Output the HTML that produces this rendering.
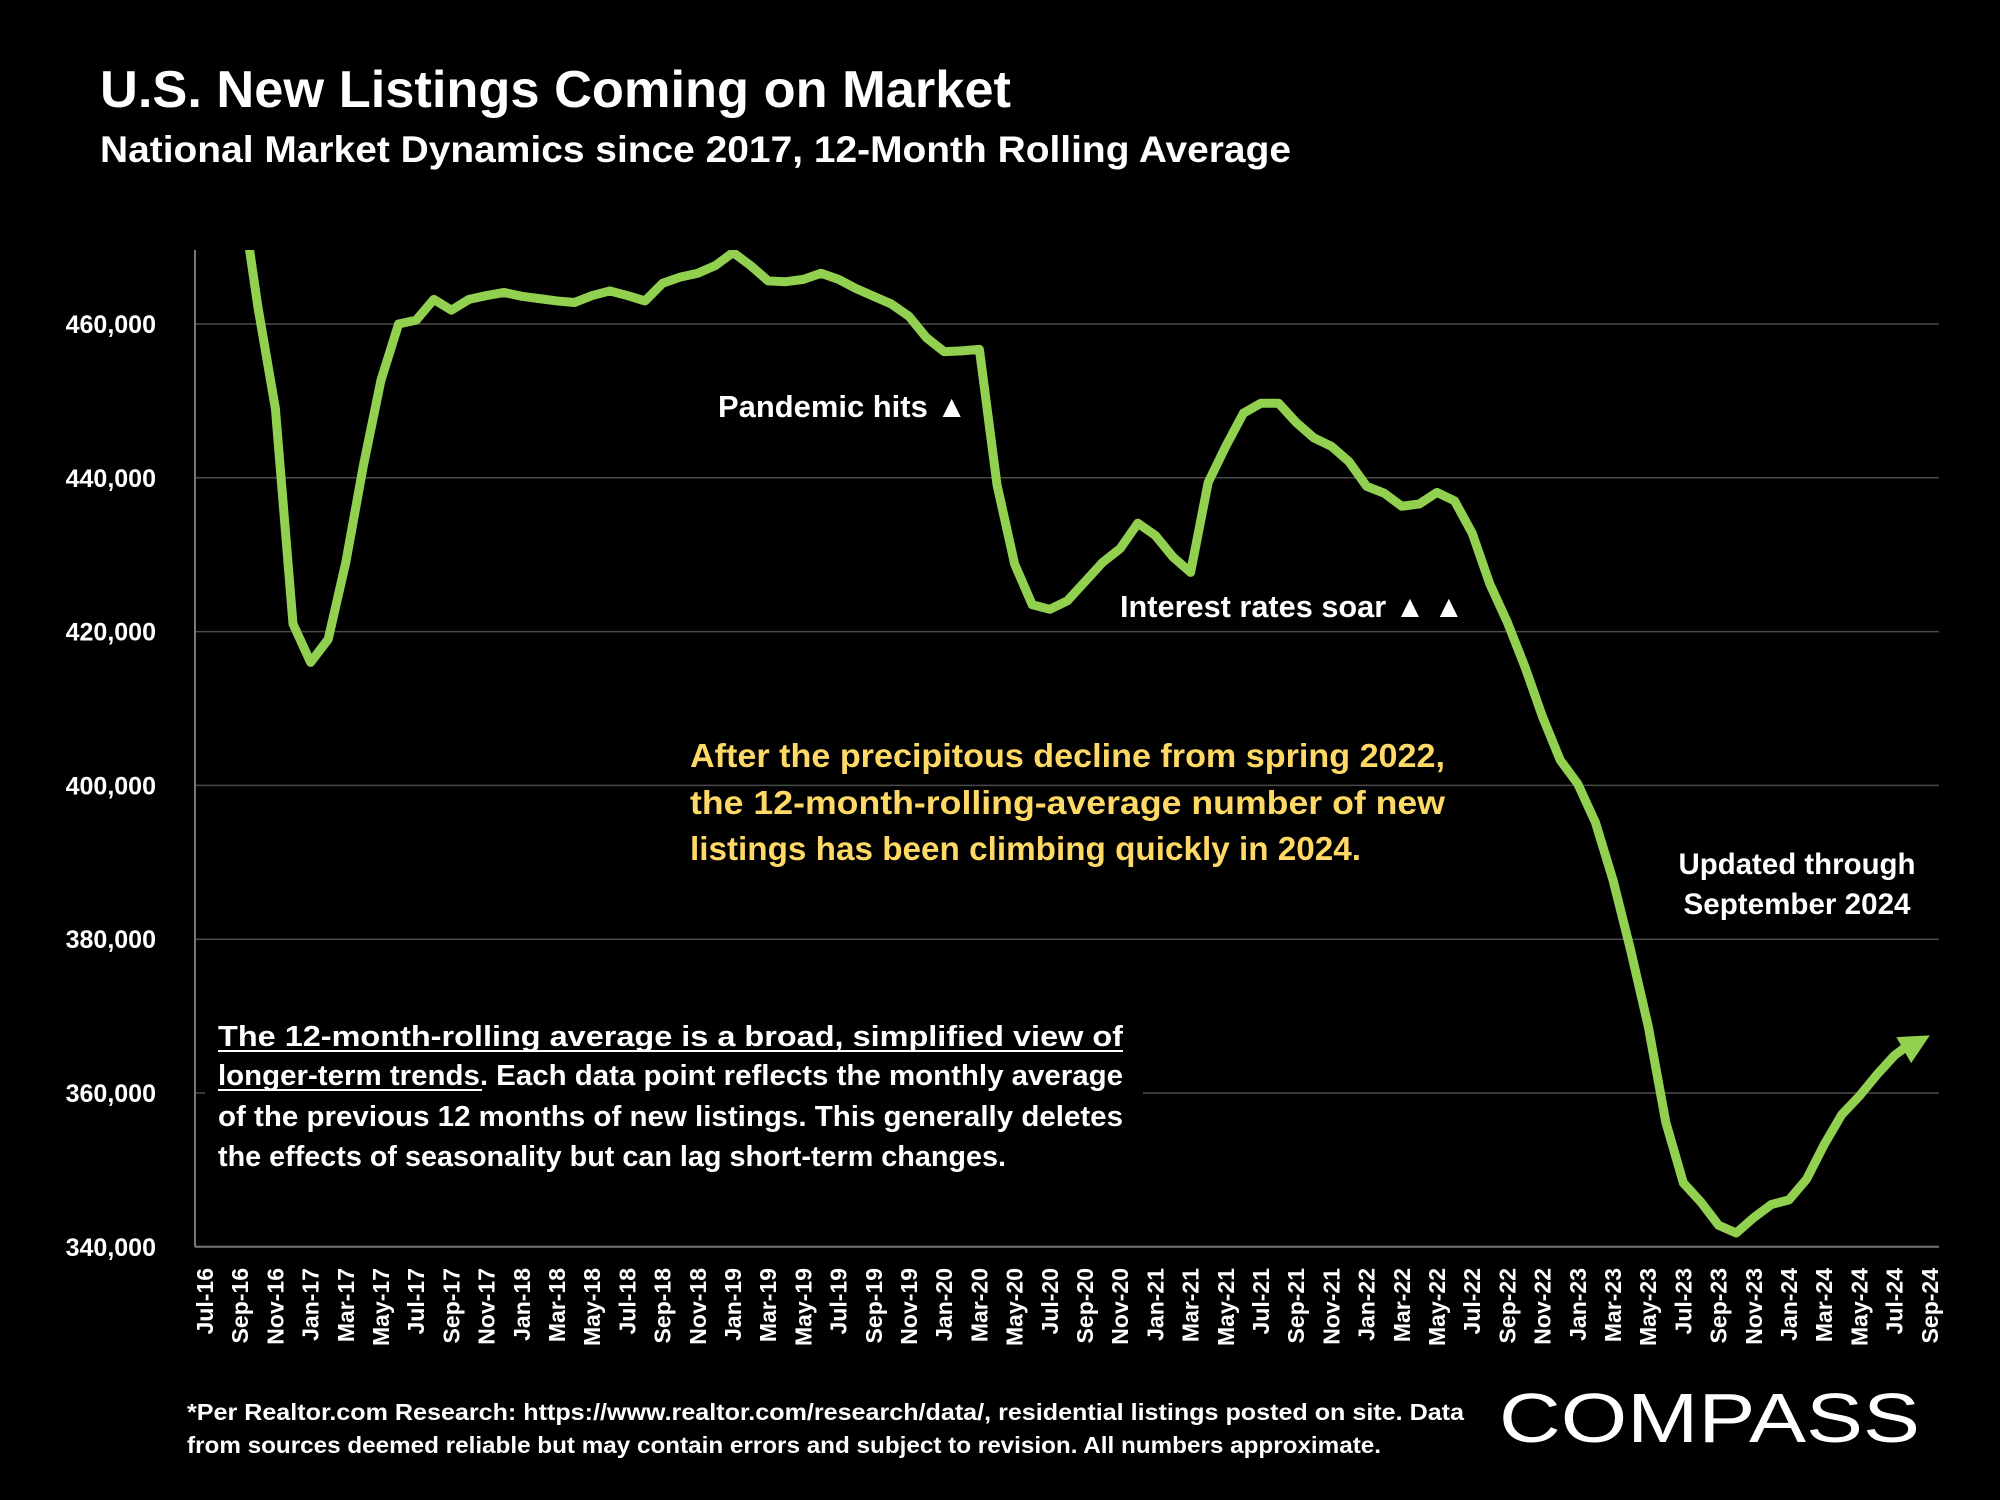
<!DOCTYPE html>
<html><head><meta charset="utf-8"><style>
html,body{margin:0;padding:0;background:#000;}
svg{display:block;font-family:"Liberation Sans",sans-serif;font-weight:bold;}
</style></head><body>
<svg id="chart" width="2000" height="1500" viewBox="0 0 2000 1500" xmlns="http://www.w3.org/2000/svg">
<rect width="2000" height="1500" fill="#000"/>
<text x="100" y="107" font-size="52" fill="#fff" textLength="911" lengthAdjust="spacingAndGlyphs">U.S. New Listings Coming on Market</text>
<text x="100" y="162" font-size="37" fill="#fff" textLength="1191" lengthAdjust="spacingAndGlyphs">National Market Dynamics since 2017, 12-Month Rolling Average</text>
<g id="grid"></g>
<g id="yaxis"></g>
<g id="xaxis"></g>
<defs><clipPath id="plotclip"><rect x="195" y="250" width="1760" height="1010"/></clipPath></defs>
<g id="series" clip-path="url(#plotclip)"></g>
<g id="arrowg"></g>
<text x="718" y="417" font-size="31" fill="#fff" textLength="249" lengthAdjust="spacingAndGlyphs">Pandemic hits ▲</text>
<text x="1120" y="617" font-size="31" fill="#fff" textLength="344" lengthAdjust="spacingAndGlyphs">Interest rates soar ▲ ▲</text>
<g fill="#ffd966" font-size="33">
<text x="690" y="767" textLength="755" lengthAdjust="spacingAndGlyphs">After the precipitous decline from spring 2022,</text>
<text x="690" y="814" textLength="755" lengthAdjust="spacingAndGlyphs">the 12-month-rolling-average number of new</text>
<text x="690" y="860" textLength="671" lengthAdjust="spacingAndGlyphs">listings has been climbing quickly in 2024.</text>
</g>
<g fill="#fff" font-size="30" text-anchor="middle">
<text x="1797" y="874" textLength="237" lengthAdjust="spacingAndGlyphs">Updated through</text>
<text x="1797" y="914" textLength="227" lengthAdjust="spacingAndGlyphs">September 2024</text>
</g>
<g>
<rect x="205" y="1005" width="938" height="175" fill="#000"/>
<g fill="#fff" font-size="29">
<text x="218" y="1046" textLength="905" lengthAdjust="spacingAndGlyphs">The 12-month-rolling average is a broad, simplified view of</text>
<text x="218" y="1085" textLength="905" lengthAdjust="spacingAndGlyphs">longer-term trends. Each data point reflects the monthly average</text>
<text x="218" y="1126" textLength="905" lengthAdjust="spacingAndGlyphs">of the previous 12 months of new listings. This generally deletes</text>
<text x="218" y="1166" textLength="788" lengthAdjust="spacingAndGlyphs">the effects of seasonality but can lag short-term changes.</text>
</g>
<line x1="218" y1="1051" x2="1123" y2="1051" stroke="#fff" stroke-width="2"/>
<line x1="218" y1="1090" x2="482" y2="1090" stroke="#fff" stroke-width="2"/>
</g>
<g fill="#fff" font-size="23">
<text x="187" y="1420" textLength="1277" lengthAdjust="spacingAndGlyphs">*Per Realtor.com Research:  https://www.realtor.com/research/data/, residential listings posted on site. Data</text>
<text x="187" y="1453" textLength="1194" lengthAdjust="spacingAndGlyphs">from sources deemed reliable but may contain errors and subject to revision. All numbers approximate.</text>
</g>
<text x="1499" y="1442" font-size="70" font-weight="normal" fill="#fff" textLength="421" lengthAdjust="spacingAndGlyphs">COMPASS</text>
</svg>
<script>
const yTicks = [340000, 360000, 380000, 400000, 420000, 440000, 460000];
const yTickLabels = ["340,000","360,000","380,000","400,000","420,000","440,000","460,000"];
const xTickLabels = ["Jul-16","Sep-16","Nov-16","Jan-17","Mar-17","May-17","Jul-17","Sep-17","Nov-17","Jan-18","Mar-18","May-18","Jul-18","Sep-18","Nov-18","Jan-19","Mar-19","May-19","Jul-19","Sep-19","Nov-19","Jan-20","Mar-20","May-20","Jul-20","Sep-20","Nov-20","Jan-21","Mar-21","May-21","Jul-21","Sep-21","Nov-21","Jan-22","Mar-22","May-22","Jul-22","Sep-22","Nov-22","Jan-23","Mar-23","May-23","Jul-23","Sep-23","Nov-23","Jan-24","Mar-24","May-24","Jul-24","Sep-24"];
const seriesStartIndex = 2;
const listings = [478000,462300,449000,421000,416000,419000,429000,441600,452700,460000,460500,463200,461800,463200,463700,464100,463600,463300,463000,462800,463700,464300,463700,463000,465300,466100,466600,467600,469300,467600,465600,465500,465800,466600,465800,464600,463600,462600,461000,458200,456400,456500,456700,439100,428800,423500,422900,424000,426500,429000,430800,434100,432500,429700,427700,439400,444100,448400,449700,449700,447200,445200,444100,442100,438900,438000,436300,436600,438100,437000,432800,426200,421200,415400,408900,403300,400200,395200,387700,378600,368700,356200,348300,345800,342800,341800,343800,345500,346100,348800,353300,357200,359600,362400,364900,366600,367500];

const NS = "http://www.w3.org/2000/svg";
const X0 = 205, DX = 17.6, PL = 195, PR = 1939;
function xScale(i){ return X0 + DX*i; }
function yScale(v){ return 324 + (460000 - v)/20000*153.8; }
function mk(tag, attrs, parent){ const e=document.createElementNS(NS,tag); for(const k in attrs) e.setAttribute(k, attrs[k]); parent.appendChild(e); return e; }

const grid = document.getElementById('grid');
const yaxis = document.getElementById('yaxis');
yTicks.forEach((t,k)=>{
  const y = yScale(t);
  const gl = mk('line',{x1:PL,x2:PR,y1:y,y2:y,stroke:(k===0?'#777':'#4a4a4a'),'stroke-width':(k===0?2:1.5)},grid);
  
  
  const tx = mk('text',{x:156,y:y+9,'text-anchor':'end','font-size':25,fill:'#fff'},yaxis);
  
  
  tx.textContent = yTickLabels[k];
});
const ax = mk('line',{x1:PL,x2:PL,y1:250,y2:yScale(340000),stroke:'#777','stroke-width':2},grid);



const xaxis = document.getElementById('xaxis');
xTickLabels.forEach((lab,k)=>{
  const x = xScale(k*2);
  const tx = mk('text',{x:0,y:0,transform:`translate(${x+8},1268) rotate(-90)`,'text-anchor':'end','font-size':23,fill:'#fff'},xaxis);
  
  
  tx.textContent = lab;
});

const series = document.getElementById('series');
const pts = listings.map((v,j)=>[xScale(seriesStartIndex+j), yScale(v)]);
const pl = mk('polyline',{points:pts.slice(0,-1).map(p=>p.join(',')).join(' '),fill:'none',stroke:'#92d050','stroke-width':9,'stroke-linejoin':'round','stroke-linecap':'round'},series);



// arrow head on last segment
const a = pts[pts.length-3], b = pts[pts.length-1];
const ang = Math.atan2(b[1]-a[1], b[0]-a[0]);
const L = 30, W = 15;
const bx = b[0]-L*Math.cos(ang), by = b[1]-L*Math.sin(ang);
const ag = document.getElementById('arrowg');
const seg = mk('line',{x1:pts[pts.length-2][0],y1:pts[pts.length-2][1],x2:bx,y2:by,stroke:'#92d050','stroke-width':9},ag);


const head = mk('polygon',{points:`${b[0]},${b[1]} ${bx+W*Math.sin(ang)},${by-W*Math.cos(ang)} ${bx-W*Math.sin(ang)},${by+W*Math.cos(ang)}`,fill:'#92d050'},ag);


</script>
</body></html>
